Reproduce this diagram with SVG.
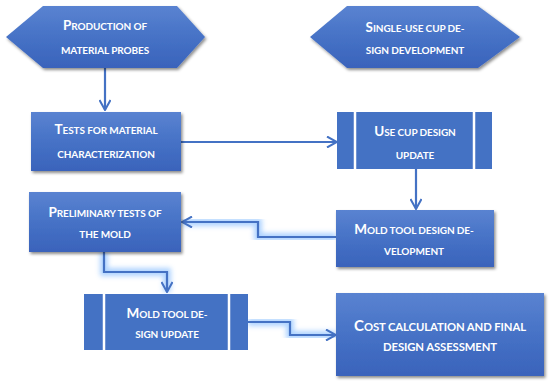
<svg xmlns="http://www.w3.org/2000/svg" width="550" height="386" viewBox="0 0 550 386">
<defs>
<linearGradient id="g" x1="0" y1="0" x2="0" y2="1">
<stop offset="0" stop-color="#5a83d1"/>
<stop offset="0.5" stop-color="#4672c6"/>
<stop offset="1" stop-color="#3a63bb"/>
</linearGradient>
<filter id="sh" x="-10%" y="-10%" width="125%" height="135%">
<feDropShadow dx="1.5" dy="2" stdDeviation="1.5" flood-color="#000" flood-opacity="0.45"/>
</filter>
<filter id="glow" x="-20%" y="-20%" width="140%" height="140%">
<feGaussianBlur stdDeviation="2.8"/>
</filter>
<marker id="ah" viewBox="0 0 12 12" refX="11" refY="6" markerWidth="12" markerHeight="12" markerUnits="userSpaceOnUse" orient="auto">
<path d="M1,0.5 L11,6 L1,11.5" fill="none" stroke="#4472c4" stroke-width="2"/>
</marker>
</defs>
<style>
.n{fill:url(#g);filter:url(#sh)}
.p{fill:#4472c4}
.t{font-family:Lato,"Open Sans",sans-serif;font-weight:700;fill:#fff;text-anchor:middle;font-size:10px;letter-spacing:-0.1px;text-transform:uppercase}
.b{font-size:13.5px}
.L{font-size:11.3px}
.LB{font-size:15px}
.gl{fill:none;stroke:#a6cfff;stroke-width:8;opacity:0.9;filter:url(#glow)}
.c{fill:none;stroke:#4472c4;stroke-width:2.2}
.sep{stroke:#fff;stroke-width:2.5}
</style>
<g id="connectors">
<g>
<path class="gl" d="M105,68 V110"/>
<path class="gl" d="M181,142 H337"/>
<path class="gl" d="M416,169 V209"/>
<path class="gl" d="M336,237 H258 V222 H182"/>
<path class="gl" d="M104,252 V272 H167 V292"/>
<path class="gl" d="M248,322 H290 V335 H336"/>
</g>
<path class="c" d="M105,68 V110" marker-end="url(#ah)"/>
<path class="c" d="M181,142 H337" marker-end="url(#ah)"/>
<path class="c" d="M416,169 V209" marker-end="url(#ah)"/>
<path class="c" d="M336,237 H258 V222 H182" marker-end="url(#ah)"/>
<path class="c" d="M104,252 V272 H167 V292" marker-end="url(#ah)"/>
<path class="c" d="M248,322 H290 V335 H336" marker-end="url(#ah)"/>
</g>
<g id="n1">
<polygon class="n" points="6,37 43,6 177,6 205,37 177,68 43,68"/>
<text class="t" x="105" y="30"><tspan class="b">P</tspan>roduction of</text>
<text class="t" x="105" y="54">material probes</text>
</g>
<g id="n2">
<polygon class="n" points="310,37 347,6 478,6 520,37 478,68 347,68"/>
<text class="t" x="415" y="32"><tspan class="b">S</tspan>ingle-use cup de-</text>
<text class="t" x="415" y="54">sign development</text>
</g>
<g id="n3">
<rect class="n" x="31" y="112" width="150" height="59"/>
<text class="t" x="106" y="134"><tspan class="b">T</tspan>ests for material</text>
<text class="t" x="106" y="158">characterization</text>
</g>
<g id="n4">
<rect class="p" x="337" y="112" width="155" height="57"/>
<line class="sep" x1="355" y1="112" x2="355" y2="169"/>
<line class="sep" x1="474" y1="112" x2="474" y2="169"/>
<text class="t" x="415" y="136"><tspan class="b">U</tspan>se cup design</text>
<text class="t" x="415" y="159">update</text>
</g>
<g id="n5">
<rect class="n" x="336" y="210" width="158" height="57"/>
<text class="t" x="414" y="234"><tspan class="b">M</tspan>old tool design de-</text>
<text class="t" x="414" y="255">velopment</text>
</g>
<g id="n6">
<rect class="n" x="29" y="192" width="152" height="60"/>
<text class="t" x="105" y="217"><tspan class="b">P</tspan>reliminary tests of</text>
<text class="t" x="105" y="238">the mold</text>
</g>
<g id="n7">
<rect class="p" x="84" y="294" width="164" height="56"/>
<line class="sep" x1="104" y1="294" x2="104" y2="350"/>
<line class="sep" x1="229" y1="294" x2="229" y2="350"/>
<text class="t" x="167" y="318"><tspan class="b">M</tspan>old tool de-</text>
<text class="t" x="167" y="338">sign update</text>
</g>
<g id="n8">
<rect class="n" x="336" y="293" width="208" height="83"/>
<text class="t L" x="440" y="331"><tspan class="LB">C</tspan>ost calculation and final</text>
<text class="t L" x="440" y="351">design assessment</text>
</g>
</svg>
